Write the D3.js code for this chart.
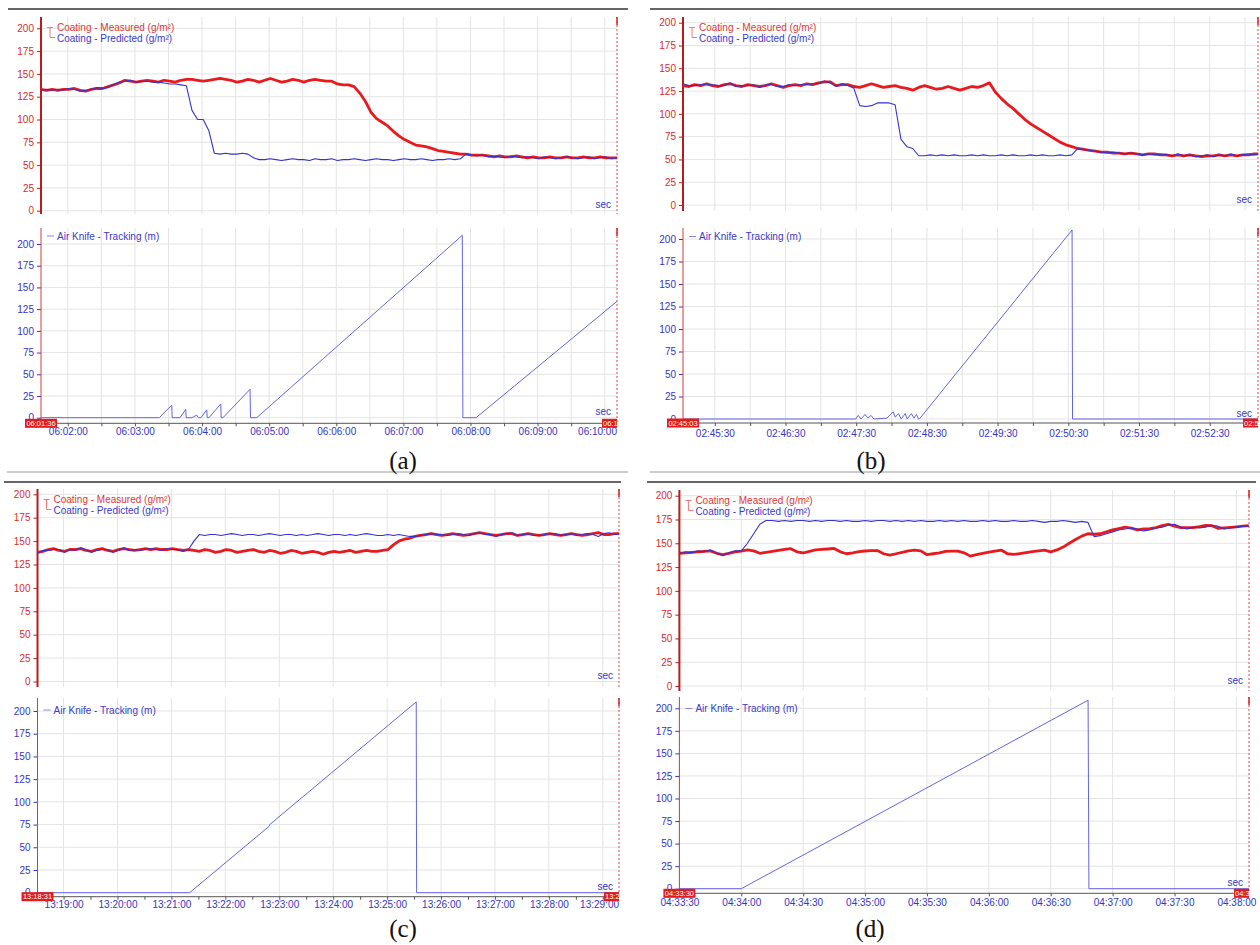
<!DOCTYPE html>
<html>
<head>
<meta charset="utf-8">
<script src="https://cdn.jsdelivr.net/npm/d3@7"></script>
<style>
body { margin: 0; background: #fff; }
svg { display: block; font-family: "Liberation Sans", Arial, sans-serif; }
</style>
</head>
<body>
<svg id="chart" width="1260" height="945"></svg>
<script>
// value ticks, same for every plot
var yTicks = [0, 25, 50, 75, 100, 125, 150, 175, 200];

// (a) starts 06:01:36, coating read every 5 s
var startA = "06:01:36";
var measuredA = [133,132,133,132,133,133,134,132,131,133,134,134,136,138,140,143,142,141,142,143,142,141,
  143,142,141,143,144,144,143,142,143,144,145,144,143,141,142,144,143,141,143,145,143,141,142,144,143,141,143,144,143,142,142,
  139,138,138,136,129,120,108,101,97,93,87,82,78,75,72,71,70,68,66,65,64,63,62,62,61,61,61,60,59,60,
  59,59,60,59,58,59,58,58,59,58,58,59,58,58,59,58,58,59,58,58,58];
var predictedA = [132,133,132,133,132,134,133,131,132,133,135,134,135,138,141,142,143,141,142,142,141,141,
  140,139,139,138,137,110,100,100,88,63,62,63,62,62,63,62,58,56,56,
  57,56,55,56,57,56,56,55,57,56,56,57,55,56,56,57,56,55,56,57,56,56,55,56,57,56,56,57,56,55,56,56,57,56,57,
  62,61,60,61,59,60,59,58,60,59,58,59,58,57,59,58,57,58,59,58,57,58,59,57,58,59,57,58];
// air knife tracking: [seconds from start, metres]
var trackingA = [[0,0],[105.8,0],[116.9,14.6],[117.3,0],[124.3,0],[129.4,9.7],[129.8,0],[135,0],[139.2,3],
  [140.8,0],[143,0],[148.2,9],[148.6,0],[150.2,0],[160.7,15.8],[161.1,0],[162.7,0],[186.9,32.7],[187.3,0],
  [192.9,0],[376.7,210],[377.2,0],[389,0],[515,134]];

// (b) starts 02:45:03, every 5 s
var startB = "02:45:03";
var measuredB = [131,130,132,131,133,131,130,132,133,131,130,132,131,130,131,133,131,129,131,132,131,133,132,134,135,135,131,132,132,
  130,129,131,133,131,129,130,131,129,128,126,129,131,129,127,128,130,128,126,128,130,129,131,134,
  124,117,111,106,100,94,89,85,81,77,73,69,66,64,62,61,60,59,58,58,57,57,56,57,56,55,56,56,55,55,
  54,55,54,55,54,53,54,54,55,54,55,54,55,55,56,56];
var predictedB = [133,131,131,132,132,132,131,131,134,130,131,131,132,129,132,132,130,130,132,131,132,132,133,133,136,134,130,133,131,
  128,109,108,109,112,112,112,110,72,64,62,54,54,55,54,55,54,55,54,54,55,54,55,54,
  54,55,54,55,54,54,55,54,55,54,54,55,54,55,
  62,61,60,59,58,57,58,57,56,57,56,55,56,55,56,55,54,56,54,55,53,54,55,53,55,54,56,54,55,56,55,56];
var trackingB = [[0,0],[146.5,0],[148.7,4],[151.1,0],[154.5,5],[157,1],[159.6,4],[162,0],[173.1,1],[176.1,5],
  [178.4,8],[180.1,2],[182.9,6],[185.2,0],[188.6,6],[190.3,0],[193.8,6],[196.1,1],[198.2,5],[199.9,0],
  [200.6,0],[330.2,210],[330.6,0],[488,0]];

// (c) starts 13:18:31, every 6 s
var startC = "13:18:31";
var measuredC = [138,139,141,142,140,139,141,141,142,140,139,141,142,140,139,141,142,141,140,141,142,141,142,141,141,142,141,140,
  141,140,139,141,140,138,139,141,140,138,139,140,141,139,138,140,139,137,138,140,139,137,138,139,138,136,138,139,138,139,
  140,138,139,140,139,139,140,141,
  146,150,152,153,155,156,157,158,157,156,157,158,157,156,157,158,159,158,157,156,157,158,158,156,157,158,157,156,157,158,
  157,156,157,158,157,156,157,158,159,157,157,158,158];
var predictedC = [137,140,140,141,141,138,141,140,143,141,138,140,141,141,138,140,143,140,141,140,141,142,141,140,142,141,141,139,
  141,150,157,156,157,157,156,157,158,157,156,157,157,156,157,158,157,156,157,157,156,157,156,157,158,157,156,157,157,156,
  157,156,157,158,157,156,156,157,156,157,156,155,155,
  156,157,158,157,157,156,157,158,157,156,158,159,157,157,155,157,158,159,156,157,158,156,156,157,158,158,156,157,158,156,
  157,158,157,155,158,159,157,158];
var trackingC = [[0,0],[169.2,0],[257.6,73],[258.4,75],[421.4,210],[421.8,0],[647,0]];

// (d) starts 04:33:30, every 3 s
var startD = "04:33:30";
var measuredD = [139.5,140,140.5,141,141.5,142,139.5,138,139.5,141,
  141.7,143,142,139.5,140.5,141.5,142.5,143.5,144.3,141,
  139.8,141.5,143,143.5,144,144.6,141,139,140,141.3,
  141.9,142.2,142.3,139,137.5,139,140.5,142,142.7,142,
  138,139,140,141.5,141.8,141.8,140,136.5,138,139.5,
  140.8,141.8,142.9,139,138.3,139.2,140.2,141.2,142,142.8,
  141,143,146,150,154,157.5,160,159.5,160,162,
  164,165.5,167,166,164,165,165.5,166.5,168.5,170,
  168,166.5,166.5,166.5,167.5,168.8,168.5,165.8,166.2,166.7,
  167.3,168,168.6];
var predictedD = [139,141,140,142,141,143,140,137,140,142,
  142,150,160,170,174,
  174,173,174,173,174,174,173,174,173,174,174,173,174,173,173,174,173,174,174,173,
  174,173,174,173,174,173,173,174,173,174,173,174,173,173,174,173,174,173,173,174,
  173,173,174,173,172,173,173,174,173,172,173,172,
  157,158,160,162,164,165,166,165,163,164,166,167,169,170,167,165,167,166,167,169,
  168,165,166,167,168,168];
var trackingD = [[0,0],[30,0],[198.1,209],[198.5,0],[277,0]];

// layout of the four screenshots
var panels = [
  { cap: "(a)", start: startA, end: 515, step: 5, measured: measuredA, predicted: predictedA, tracking: trackingA,
    xL: 41, xR: 617, top: [17, 214, 210.7, 28.3], bot: [228, 423.3, 417.7, 244], botLeg: 236, labelY: 432,
    grid: 30, labelEvery: 60, labelAt: 0, labelMax: 617, endTag: "06:1", capX: 403, capY: 469,
    rules: [[9, 8, 628, "#333", 1.6], [472, 7, 628, "#999", 1]] },
  { cap: "(b)", start: startB, end: 488, step: 5, measured: measuredB, predicted: predictedB, tracking: trackingB,
    xL: 683, xR: 1258, top: [17, 211, 205, 22.7], bot: [228, 423, 419, 239], botLeg: 236.5, labelY: 433,
    grid: 30, labelEvery: 60, labelAt: 30, labelMax: 1260, endTag: "02:5", capX: 871, capY: 469,
    rules: [[9, 650, 1260, "#333", 1.6], [472, 650, 1260, "#999", 1]] },
  { cap: "(c)", start: startC, end: 647, step: 6, measured: measuredC, predicted: predictedC, tracking: trackingC,
    xL: 37.5, xR: 619, top: [489, 687, 681.5, 494.3], bot: [698, 896.7, 892.7, 711], botLeg: 710, labelY: 905,
    grid: 60, labelEvery: 60, labelAt: 0, labelMax: 619, endTag: "13:2", capX: 403, capY: 937,
    rules: [[482, 4, 621, "#333", 1.6]] },
  { cap: "(d)", start: startD, end: 276.1, step: 3, measured: measuredD, predicted: predictedD, tracking: trackingD,
    xL: 679.4, xR: 1249, top: [490, 691, 686, 495.7], bot: [697, 893.3, 888.7, 708.3], botLeg: 708.5, labelY: 903,
    grid: 30, labelEvery: 30, labelAt: 0, labelMax: 1260, endTag: "04:3", capX: 870, capY: 937,
    rules: [[482, 647, 1256, "#333", 1.6]] }
];

var svg = d3.select("#chart");
var fmt = d3.utcFormat("%H:%M:%S");
var gridColor = "#e4e4e4";
var redText = "#d92b2b";
var blueText = "#3434c8";

function toDate(start, sec) {
  return new Date(Date.parse("1970-01-01T" + start + "Z") + sec * 1000);
}

panels.forEach(function (p, pi) {
  var g = svg.append("g");
  var t0 = toDate(p.start, 0), t1 = toDate(p.start, p.end);
  var x = d3.scaleUtc().domain([t0, t1]).range([p.xL, p.xR]);
  var yTop = d3.scaleLinear().domain([0, 200]).range([p.top[2], p.top[3]]);
  var yBot = d3.scaleLinear().domain([0, 200]).range([p.bot[2], p.bot[3]]);
  var gridTimes = d3.utcSecond.every(p.grid).range(t0, t1);
  var tickTimes = d3.utcSecond.every(30).range(t0, t1);

  // rules of the pasted screenshot
  p.rules.forEach(function (r) {
    g.append("line").attr("x1", r[1]).attr("x2", r[2]).attr("y1", r[0]).attr("y2", r[0])
      .attr("stroke", r[3]).attr("stroke-width", r[4]);
  });

  [[p.top, yTop], [p.bot, yBot]].forEach(function (pair, j) {
    var box = pair[0], y = pair[1];
    var clipId = "clip" + pi + "_" + j;
    g.append("clipPath").attr("id", clipId).append("rect")
      .attr("x", p.xL).attr("y", box[0]).attr("width", p.xR - p.xL).attr("height", box[1] - box[0]);

    // grid
    g.append("g").selectAll("line").data(gridTimes).enter().append("line")
      .attr("x1", function (d) { return x(d); }).attr("x2", function (d) { return x(d); })
      .attr("y1", box[0]).attr("y2", box[1]).attr("stroke", gridColor);
    g.append("g").selectAll("line").data(yTicks).enter().append("line")
      .attr("x1", p.xL).attr("x2", p.xR)
      .attr("y1", function (d) { return y(d); }).attr("y2", function (d) { return y(d); })
      .attr("stroke", gridColor);

    // right edge marker
    g.append("line").attr("x1", p.xR).attr("x2", p.xR).attr("y1", box[0]).attr("y2", box[1])
      .attr("stroke", "#e84545").attr("stroke-width", 1).attr("stroke-dasharray", "2,2");
    g.append("line").attr("x1", p.xR).attr("x2", p.xR).attr("y1", box[0]).attr("y2", box[0] + 8)
      .attr("stroke", "#e02020").attr("stroke-width", 1.5);

    // y axis
    var ax = g.append("g").attr("transform", "translate(" + p.xL + ",0)")
      .call(d3.axisLeft(y).tickValues(yTicks).tickSize(4).tickPadding(3));
    ax.select(".domain").remove();
    ax.selectAll("line").attr("stroke", j === 0 ? "#b02020" : "#3434c8");
    ax.selectAll("text").attr("fill", j === 0 ? redText : blueText)
      .style("font-size", "10px").style("font-family", "Liberation Sans, Arial, sans-serif");
    g.append("line").attr("x1", p.xL).attr("x2", p.xL).attr("y1", box[0]).attr("y2", box[1])
      .attr("stroke", j === 0 ? "#b81c1c" : "#d83a3a").attr("stroke-width", j === 0 ? 2 : 1);

    // sec label
    g.append("text").attr("x", p.xR - 6).attr("y", y(0) - 6).attr("dy", "0.35em")
      .attr("text-anchor", "end").attr("fill", blueText).style("font-size", "10px").text("sec");

    var plot = g.append("g").attr("clip-path", "url(#" + clipId + ")");
    if (j === 0) {
      var line = d3.line().x(function (d) { return x(d[0]); }).y(function (d) { return y(d[1]); });
      var meas = p.measured.map(function (v, k) { return [toDate(p.start, k * p.step), v]; });
      var pred = p.predicted.map(function (v, k) { return [toDate(p.start, k * p.step), v]; });
      plot.append("path").datum(meas).attr("d", line).attr("fill", "none")
        .attr("stroke", "#e81a1e").attr("stroke-width", 2.8).attr("stroke-linejoin", "round");
      plot.append("path").datum(pred).attr("d", line).attr("fill", "none")
        .attr("stroke", "#3333d2").attr("stroke-width", 1.1).attr("stroke-linejoin", "round");

      // legend
      var lx = p.xL, ly = box[0] + 10.5;
      g.append("path")
        .attr("d", "M" + (lx + 6) + "," + ly + "H" + (lx + 12) + "M" + (lx + 9) + "," + ly +
          "V" + (ly + 10) + "H" + (lx + 14))
        .attr("fill", "none").attr("stroke", "#f07a7a").attr("stroke-width", 1);
      g.append("text").attr("x", lx + 16).attr("y", ly).attr("dy", "0.35em").attr("fill", "#e23535")
        .style("font-size", "10px").text("Coating - Measured (g/m\u00b2)");
      g.append("text").attr("x", lx + 16).attr("y", ly + 11.3).attr("dy", "0.35em").attr("fill", "#3a3acb")
        .style("font-size", "10px").text("Coating - Predicted (g/m\u00b2)");
    } else {
      var tline = d3.line().x(function (d) { return x(toDate(p.start, d[0])); }).y(function (d) { return y(d[1]); });
      plot.append("path").datum(p.tracking).attr("d", tline).attr("fill", "none")
        .attr("stroke", "#6464e4").attr("stroke-width", 1);

      g.append("line").attr("x1", p.xL + 6).attr("x2", p.xL + 13).attr("y1", p.botLeg).attr("y2", p.botLeg)
        .attr("stroke", "#8a8ae8").attr("stroke-width", 1);
      g.append("text").attr("x", p.xL + 16).attr("y", p.botLeg).attr("dy", "0.35em").attr("fill", "#3a3acb")
        .style("font-size", "10px").text("Air Knife - Tracking (m)");
    }
  });

  // time axis under the tracking plot
  var axisY = p.bot[1];
  var xa = g.append("g").attr("transform", "translate(0," + axisY + ")")
    .call(d3.axisBottom(x).tickValues(tickTimes).tickSize(3).tickFormat(function (d) {
      var sod = d.getUTCHours() * 3600 + d.getUTCMinutes() * 60 + d.getUTCSeconds();
      return ((sod - p.labelAt) % p.labelEvery === 0) ? fmt(d) : "";
    }));
  xa.select(".domain").attr("stroke", "#555").attr("d", "M" + p.xL + ",0H" + p.xR);
  xa.selectAll("line").attr("stroke", "#555");
  xa.selectAll("text").attr("fill", blueText).attr("y", p.labelY - axisY).attr("dy", "0.35em")
    .style("font-size", "10px").style("font-family", "Liberation Sans, Arial, sans-serif");
  xa.selectAll(".tick").each(function () {
    var t = d3.select(this).select("text");
    var node = t.node();
    if (!node.textContent) return;
    var tr = d3.select(this).attr("transform");
    var tx = +tr.replace(/translate\(([-\d.]+).*/, "$1");
    var w = node.getComputedTextLength();
    if (tx + w / 2 > p.labelMax) t.attr("x", p.labelMax - w / 2 - tx);
  });

  // red time tags at both ends of the axis
  g.append("rect").attr("x", p.xL - 16).attr("y", axisY - 4.5).attr("width", 32).attr("height", 9)
    .attr("fill", "#e31b1b");
  g.append("text").attr("x", p.xL).attr("y", axisY).attr("dy", "0.35em").attr("text-anchor", "middle")
    .attr("fill", "#fff").style("font-size", "7.5px").text(p.start);
  g.append("rect").attr("x", p.xR - 15).attr("y", axisY - 4.5).attr("width", 15).attr("height", 9)
    .attr("fill", "#e31b1b");
  g.append("text").attr("x", p.xR - 14).attr("y", axisY).attr("dy", "0.35em")
    .attr("fill", "#fff").style("font-size", "7.5px").text(p.endTag);

  // caption
  g.append("text").attr("x", p.capX).attr("y", p.capY).attr("text-anchor", "middle")
    .style("font-family", "Liberation Serif, Times New Roman, serif").style("font-size", "25px")
    .attr("fill", "#111").text(p.cap);
});
</script>
</body>
</html>
